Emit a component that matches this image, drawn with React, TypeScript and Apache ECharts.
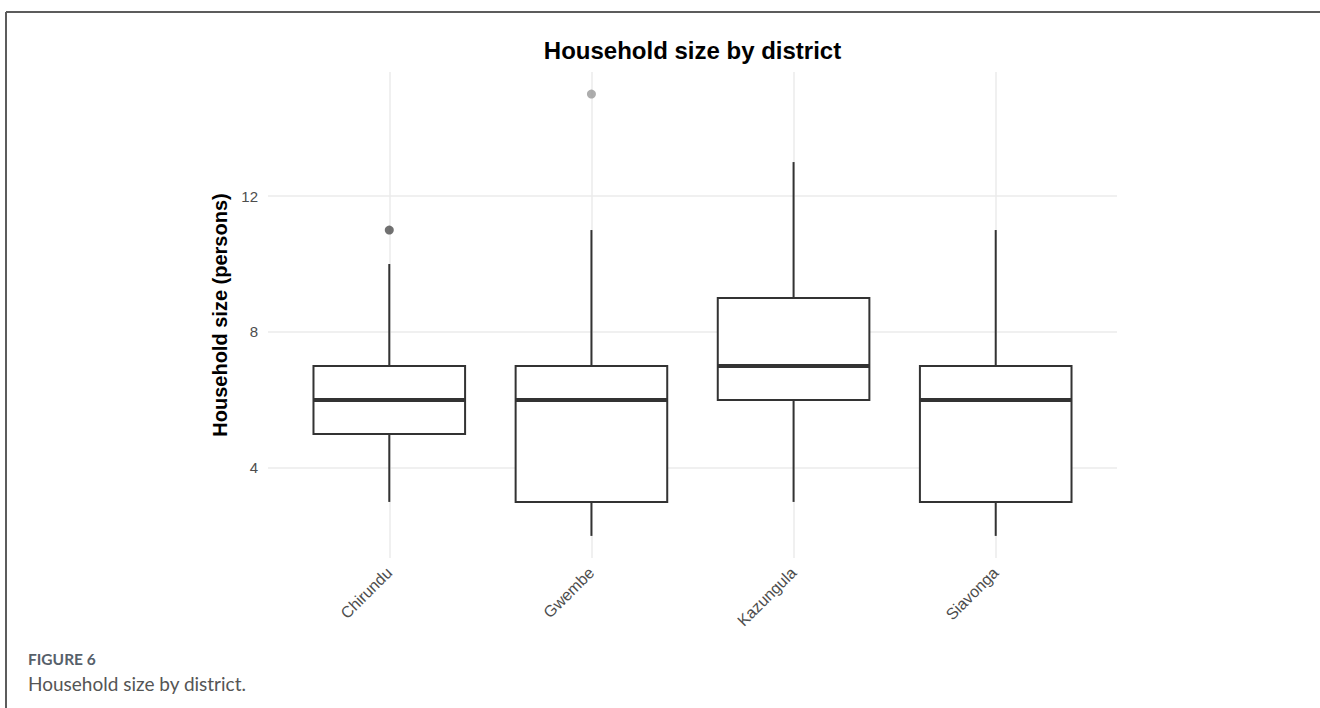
import React, { useEffect, useRef } from "react";
import * as echarts from "echarts";

// Household size summary per district (persons)
const districts = ["Chirundu", "Gwembe", "Kazungula", "Siavonga"];
const whiskerLow = [3, 2, 3, 2];
const lowerQuartile = [5, 3, 6, 3];
const medians = [6, 6, 7, 6];
const upperQuartile = [7, 7, 9, 7];
const whiskerHigh = [10, 11, 13, 11];

// Individual outlying households
const outlierDistrictIndex = [1, 2];
const outlierValues = [11, 15];

const yTickValues = [4, 8, 12];
const districtPositions = [1, 2, 3, 4];

const outlierColors = ["#4d4d4d", "#999999"];
const INK = "#333333";
const GRID = "#ebebeb";
const SANS = "Liberation Sans, Arial, sans-serif";

export default function App() {
  const ref = useRef<HTMLDivElement>(null);

  useEffect(() => {
    if (!ref.current) return;
    const chart = echarts.init(ref.current, null, { renderer: "svg" });

    const boxData = districts.map((_, i) => [
      i + 1,
      whiskerLow[i],
      lowerQuartile[i],
      medians[i],
      upperQuartile[i],
      whiskerHigh[i],
    ]);

    const outlierData = outlierValues.map((v, i) => ({
      value: [outlierDistrictIndex[i], v],
      itemStyle: { color: outlierColors[i] },
    }));

    chart.setOption({
      animation: false,
      backgroundColor: "#ffffff",
      grid: { left: 268, right: 203, top: 72, bottom: 150 },
      xAxis: {
        type: "value",
        min: 0.4,
        max: 4.6,
        axisLine: { show: false },
        axisTick: { show: false, customValues: districtPositions },
        axisLabel: {
          customValues: districtPositions,
          formatter: (v: number) => districts[Math.round(v) - 1] ?? "",
          rotate: 45,
          margin: 12,
          color: "#4d4d4d",
          fontSize: 16,
          fontFamily: SANS,
        },
        splitLine: { show: true, lineStyle: { color: GRID, width: 1.5 } },
      },
      yAxis: {
        type: "value",
        min: 1.35,
        max: 15.65,
        name: "Household size (persons)",
        nameLocation: "middle",
        nameRotate: 90,
        nameGap: 31,
        nameTextStyle: {
          fontSize: 20,
          fontWeight: "bold",
          color: "#000000",
          fontFamily: SANS,
        },
        axisLine: { show: false },
        axisTick: { show: false, customValues: yTickValues },
        axisLabel: {
          customValues: yTickValues,
          margin: 10,
          color: "#4d4d4d",
          fontSize: 15,
          fontFamily: SANS,
        },
        splitLine: { show: true, lineStyle: { color: GRID, width: 1.5 } },
      },
      series: [
        {
          type: "custom",
          data: boxData,
          encode: { x: 0, y: [1, 2, 3, 4, 5] },
          renderItem: (_params: any, api: any) => {
            const x = api.value(0);
            const [cx, yLow] = api.coord([x, api.value(1)]);
            const yQ1 = api.coord([x, api.value(2)])[1];
            const yMed = api.coord([x, api.value(3)])[1];
            const yQ3 = api.coord([x, api.value(4)])[1];
            const yHigh = api.coord([x, api.value(5)])[1];
            const half = api.size([0.75, 0])[0] / 2;
            const stroke = { stroke: INK, lineWidth: 2 };
            return {
              type: "group",
              children: [
                { type: "line", shape: { x1: cx, y1: yLow, x2: cx, y2: yQ1 }, style: stroke },
                { type: "line", shape: { x1: cx, y1: yQ3, x2: cx, y2: yHigh }, style: stroke },
                {
                  type: "rect",
                  shape: { x: cx - half, y: yQ3, width: half * 2, height: yQ1 - yQ3 },
                  style: { fill: "#ffffff", stroke: INK, lineWidth: 2 },
                },
                {
                  type: "line",
                  shape: { x1: cx - half, y1: yMed, x2: cx + half, y2: yMed },
                  style: { stroke: INK, lineWidth: 4 },
                },
              ],
            };
          },
          z: 3,
        },
        {
          type: "scatter",
          data: outlierData,
          symbol: "circle",
          symbolSize: 9,
          z: 4,
        },
      ],
      graphic: [
        {
          type: "line",
          shape: { x1: 6, y1: 12, x2: 1320, y2: 12 },
          style: { stroke: "#5c5c5c", lineWidth: 2 },
        },
        {
          type: "line",
          shape: { x1: 6, y1: 12, x2: 6, y2: 708 },
          style: { stroke: "#5c5c5c", lineWidth: 2 },
        },
        {
          type: "text",
          x: 692.5,
          y: 50,
          style: {
            text: "Household size by district",
            textAlign: "center",
            textVerticalAlign: "middle",
            fontSize: 24,
            fontWeight: "bold",
            fill: "#000000",
            fontFamily: SANS,
          },
        },
        {
          type: "text",
          x: 28,
          y: 659,
          style: {
            text: "FIGURE 6",
            textAlign: "left",
            textVerticalAlign: "middle",
            fontSize: 15.5,
            fontWeight: "bold",
            fill: "#56606a",
            fontFamily: "Lato, Open Sans, sans-serif",
          },
        },
        {
          type: "text",
          x: 28,
          y: 683,
          style: {
            text: "Household size by district.",
            textAlign: "left",
            textVerticalAlign: "middle",
            fontSize: 19,
            fill: "#555555",
            fontFamily: "Lato, Open Sans, sans-serif",
          },
        },
      ],
    });

    return () => chart.dispose();
  }, []);

  return (
    <div
      ref={ref}
      style={{ position: "absolute", left: 0, top: 0, width: 1320, height: 708 }}
    />
  );
}
